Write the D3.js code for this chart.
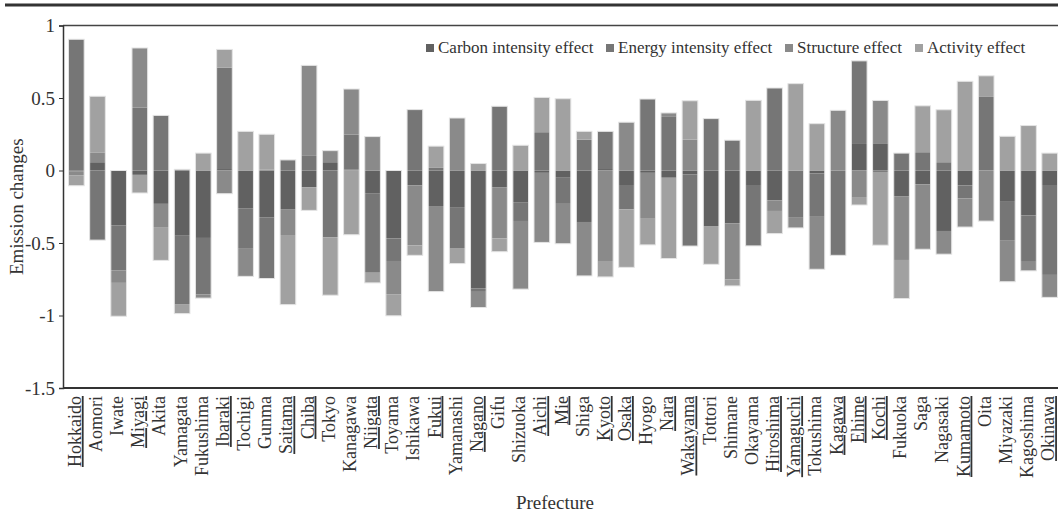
<!DOCTYPE html>
<html>
<head>
<meta charset="utf-8">
<script src="https://cdn.jsdelivr.net/npm/d3@7"></script>
<style>
  body { margin: 0; background: #fff; }
  svg { display: block; font-family: "Liberation Serif", "Times New Roman", serif; }
</style>
</head>
<body>
<div id="chart"></div>
<script>
// prefectures, underlined ones are flagged separately
const prefectures = ["Hokkaido","Aomori","Iwate","Miyagi","Akita","Yamagata","Fukushima","Ibaraki","Tochigi","Gunma",
  "Saitama","Chiba","Tokyo","Kanagawa","Niigata","Toyama","Ishikawa","Fukui","Yamanashi","Nagano",
  "Gifu","Shizuoka","Aichi","Mie","Shiga","Kyoto","Osaka","Hyogo","Nara","Wakayama",
  "Tottori","Shimane","Okayama","Hiroshima","Yamaguchi","Tokushima","Kagawa","Ehime","Kochi","Fukuoka",
  "Saga","Nagasaki","Kumamoto","Oita","Miyazaki","Kagoshima","Okinawa"]
const underlined = ["Hokkaido","Miyagi","Ibaraki","Saitama","Chiba","Niigata","Fukui","Nagano","Aichi","Mie",
  "Kyoto","Osaka","Nara","Wakayama","Hiroshima","Yamaguchi","Kagawa","Ehime","Kochi","Kumamoto","Okinawa"]

const seriesNames = ["Carbon intensity effect", "Energy intensity effect", "Structure effect", "Activity effect"]

const carbon = [-0.005,0.057,-0.38,-0.03,-0.23,-0.45,-0.465,0.01,-0.26,-0.325,
  -0.27,-0.115,0.057,0.007,-0.16,-0.468,-0.103,-0.245,-0.257,-0.814,
  -0.115,-0.222,-0.016,-0.05,-0.355,0.01,-0.10,-0.016,-0.05,-0.028,
  -0.383,-0.365,-0.10,-0.206,0,-0.02,0,0.183,0.183,-0.177,
  -0.096,-0.417,-0.103,0,-0.216,-0.31,-0.10]
const energy = [0.905,-0.48,-0.31,0.435,0.38,-0.475,-0.39,0.70,-0.28,-0.42,
  0.073,0.105,-0.46,0.24,-0.545,-0.156,0.42,0.018,-0.282,-0.023,
  0.443,-0.126,0.264,-0.18,0.213,0.26,-0.168,0.493,0.374,-0.493,
  0.358,0.209,-0.42,0.569,-0.326,-0.294,-0.585,0.573,-0.01,0.12,
  0.126,0.057,-0.09,0.511,-0.264,-0.32,-0.62]
const structure = [-0.03,0.065,-0.085,0.41,-0.16,0.008,-0.025,-0.16,-0.19,0.005,
  -0.175,0.62,0.08,0.315,0.234,-0.229,-0.413,-0.59,0.362,-0.108,
  -0.353,-0.47,-0.48,-0.275,-0.372,-0.624,0.333,-0.317,0.023,0.213,
  0,-0.385,0,-0.073,-0.07,-0.367,0.415,-0.183,0.30,-0.44,
  -0.447,-0.16,-0.197,-0.349,-0.287,-0.062,-0.155]
const activity = [-0.07,0.39,-0.23,-0.125,-0.23,-0.062,0.12,0.125,0.27,0.245,
  -0.48,-0.16,-0.40,-0.443,-0.07,-0.149,-0.069,0.15,-0.103,0.048,
  -0.092,0.174,0.24,0.495,0.057,-0.11,-0.40,-0.18,-0.557,0.268,
  -0.264,-0.046,0.484,-0.156,0.599,0.323,0,-0.055,-0.505,-0.266,
  0.32,0.362,0.615,0.142,0.236,0.31,0.12]

const yTicks = [-1.5, -1, -0.5, 0, 0.5, 1]
const colors = ["#616161", "#767676", "#8a8a8a", "#a1a1a1"]

const width = 1058
const height = 516
const margin = { top: 25.5, right: 0, bottom: 128, left: 63 }

const svg = d3.select('#chart').append('svg')
  .attr('width', width)
  .attr('height', height)

// table for d3.stack
const rows = prefectures.map((p, i) => ({
  name: p,
  "Carbon intensity effect": carbon[i],
  "Energy intensity effect": energy[i],
  "Structure effect": structure[i],
  "Activity effect": activity[i]
}))
const stacked = d3.stack().keys(seriesNames).offset(d3.stackOffsetDiverging)(rows)

const x = d3.scaleBand()
  .domain(prefectures)
  .range([63, 1063])
  .padding(0.26)
const y = d3.scaleLinear()
  .domain([-1.5, 1])
  .range([height - margin.bottom, margin.top])

// top rule of the figure
svg.append('line')
  .attr('x1', 5).attr('x2', width)
  .attr('y1', 5).attr('y2', 5)
  .attr('stroke', '#333').attr('stroke-width', 3)

// bars
const g = svg.append('g')
g.selectAll('g.series')
  .data(stacked)
  .join('g')
  .attr('class', 'series')
  .attr('fill', (d, i) => colors[i])
  .selectAll('rect')
  .data(d => d)
  .join('rect')
  .attr('x', d => x(d.data.name))
  .attr('width', x.bandwidth())
  .attr('y', d => y(Math.max(d[0], d[1])))
  .attr('height', d => Math.abs(y(d[0]) - y(d[1])))

// light outline around each whole bar
const extent = prefectures.map((p, i) => {
  const vals = stacked.flatMap(s => [s[i][0], s[i][1]])
  return [d3.min(vals), d3.max(vals)]
})
g.selectAll('rect.outline')
  .data(prefectures)
  .join('rect')
  .attr('class', 'outline')
  .attr('x', d => x(d))
  .attr('width', x.bandwidth())
  .attr('y', (d, i) => y(extent[i][1]))
  .attr('height', (d, i) => y(extent[i][0]) - y(extent[i][1]))
  .attr('fill', 'none')
  .attr('stroke', '#e4e4e4')
  .attr('stroke-width', 1)

// frame lines
svg.append('line')
  .attr('x1', margin.left).attr('x2', width)
  .attr('y1', y(1)).attr('y2', y(1))
  .attr('stroke', '#444').attr('stroke-width', 1.5)
svg.append('line')
  .attr('x1', margin.left).attr('x2', width)
  .attr('y1', y(-1.5)).attr('y2', y(-1.5))
  .attr('stroke', '#333').attr('stroke-width', 2)

// y axis
const yAxis = svg.append('g')
  .attr('transform', `translate(${margin.left},0)`)
  .call(d3.axisLeft(y).tickValues(yTicks).tickSize(4).tickFormat(d => String(d)))
yAxis.select('.domain').attr('stroke', '#333').attr('stroke-width', 1.5)
yAxis.selectAll('.tick line').attr('stroke', '#333')
yAxis.selectAll('.tick text')
  .attr('x', -8)
  .attr('font-size', 19)
  .attr('font-family', '"Liberation Serif", serif')
  .attr('fill', '#333')

// x labels
svg.append('g')
  .selectAll('text')
  .data(prefectures)
  .join('text')
  .attr('transform', d => `translate(${x(d) + x.bandwidth() / 2 + 4.5},396) rotate(-90)`)
  .attr('text-anchor', 'end')
  .attr('font-size', 18)
  .attr('fill', '#333')
  .attr('text-decoration', d => underlined.includes(d) ? 'underline' : null)
  .text(d => d)

// axis titles
svg.append('text')
  .attr('transform', `translate(23,${(y(1) + y(-1.5)) / 2}) rotate(-90)`)
  .attr('text-anchor', 'middle')
  .attr('font-size', 19)
  .attr('fill', '#333')
  .text('Emission changes')
svg.append('text')
  .attr('x', 555)
  .attr('y', 509)
  .attr('text-anchor', 'middle')
  .attr('font-size', 19)
  .attr('fill', '#333')
  .text('Prefecture')

// legend
const legendX = [426, 606, 785, 915]
const legend = svg.append('g')
  .selectAll('g')
  .data(seriesNames)
  .join('g')
  .attr('transform', (d, i) => `translate(${legendX[i]},43)`)
legend.append('rect')
  .attr('width', 8).attr('height', 8)
  .attr('y', 1)
  .attr('fill', (d, i) => colors[i])
legend.append('text')
  .attr('x', 12)
  .attr('y', 10)
  .attr('font-size', 17)
  .attr('fill', '#333')
  .text(d => d)
</script>
</body>
</html>
